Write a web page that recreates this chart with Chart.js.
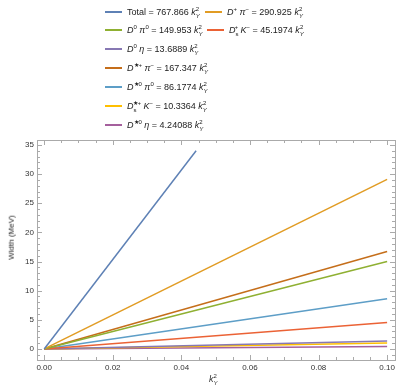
<!DOCTYPE html>
<html>
<head>
<meta charset="utf-8">
<script src="https://cdn.jsdelivr.net/npm/chart.js@4"></script>
<style>
  html, body { margin: 0; padding: 0; background: #fff; }
  #wrap { position: relative; width: 407px; height: 391px; font-family: "Liberation Sans", Arial, sans-serif; }
  canvas { position: absolute; left: 0; top: 0; }
  .leg { position: absolute; font-size: 9px; color: #222; white-space: nowrap; line-height: 10px; }
  .leg .sw { display: inline-block; width: 17px; height: 2px; vertical-align: middle; margin-right: 5px; position: relative; top: -1px; }
  .leg i { font-style: italic; }
  .leg sup, .leg sub { font-size: 6px; line-height: 0; }
  .lbl { position: absolute; font-size: 8px; color: #333; white-space: nowrap; }
</style>
</head>
<body>
<div id="wrap">
  <canvas id="c" width="407" height="391"></canvas>
  <div id="legend"></div>
  <div class="lbl" id="ylab" style="left:-11px; top:233px; transform: rotate(-90deg); color:#222;">Width (MeV)</div>
  <div class="lbl" style="left:209px; top:373px; font-size:9px;"><i>k</i><sub style="font-size:6px;"><i>Y</i></sub><sup style="font-size:6px; margin-left:-4px;">2</sup></div>
</div>
<script>
// channel names (html) and colours, Mathematica default palette order
const channels = [
  'Total = 767.866',
  '<i>D</i><sup>+</sup> <i>π</i><sup>−</sup> = 290.925',
  '<i>D</i><sup>0</sup> <i>π</i><sup>0</sup> = 149.953',
  '<i>D</i><sub>s</sub><sup style="margin-left:-4px">+</sup> <i>K</i><sup>−</sup> = 45.1974',
  '<i>D</i><sup>0</sup> <i>η</i> = 13.6889',
  '<i>D</i><sup>★+</sup> <i>π</i><sup>−</sup> = 167.347',
  '<i>D</i><sup>★0</sup> <i>π</i><sup>0</sup> = 86.1774',
  '<i>D</i><sub>s</sub><sup style="margin-left:-4px">★+</sup> <i>K</i><sup>−</sup> = 10.3364',
  '<i>D</i><sup>★0</sup> <i>η</i> = 4.24088'
];
const colors = ['#5e81b5', '#e19c24', '#8fb032', '#eb6235', '#8778b3', '#c56e1a', '#5d9ec7', '#ffbf00', '#a5609d'];

// end points of each line (all start at 0,0)
const xEnd = [0.0443, 0.1, 0.1, 0.1, 0.1, 0.1, 0.1, 0.1, 0.1];
const yEnd = [34.0, 29.09, 14.99, 4.52, 1.37, 16.73, 8.62, 1.03, 0.42];

const xTicks = [0, 0.02, 0.04, 0.06, 0.08, 0.10];
const xTickLabels = ['0.00', '0.02', '0.04', '0.06', '0.08', '0.10'];
const yTicks = [0, 5, 10, 15, 20, 25, 30, 35];

// legend layout (left col, right col, then the rest in left col)
const legPos = [[105, 7], [205, 7], [105, 25], [207, 25], [105, 44], [105, 63], [105, 82], [105, 101], [105, 120]];
const legend = document.getElementById('legend');
legend.innerHTML = channels.map((txt, i) => `
  <div class="leg" style="left:${legPos[i][0]}px; top:${legPos[i][1]}px;">
    <span class="sw" style="background:${colors[i]};"></span>${txt} <i>k</i><sub><i>Y</i></sub><sup style="margin-left:-4px">2</sup>
  </div>`).join('');

const frame = {
  id: 'frame',
  afterDraw(chart) {
    const ctx = chart.ctx;
    const a = chart.chartArea;
    const xs = chart.scales.x, ys = chart.scales.y;
    ctx.save();
    ctx.strokeStyle = '#aaa';
    ctx.lineWidth = 1;
    ctx.strokeRect(a.left + 0.5, a.top + 0.5, a.right - a.left, a.bottom - a.top);
    ctx.beginPath();
    for (let v = 0; v <= 0.1001; v += 0.005) {
      const px = Math.round(xs.getPixelForValue(v)) + 0.5;
      const major = Math.abs(v / 0.02 - Math.round(v / 0.02)) < 1e-6;
      const len = major ? 5 : 3;
      ctx.moveTo(px, a.bottom); ctx.lineTo(px, a.bottom - len);
      ctx.moveTo(px, a.top); ctx.lineTo(px, a.top + len);
    }
    for (let v = -1; v <= 35; v += 1) {
      const py = Math.round(ys.getPixelForValue(v)) + 0.5;
      const len = v % 5 === 0 ? 5 : 3;
      ctx.moveTo(a.left, py); ctx.lineTo(a.left + len, py);
      ctx.moveTo(a.right, py); ctx.lineTo(a.right - len, py);
    }
    ctx.stroke();
    ctx.fillStyle = '#333';
    ctx.font = '8px "Liberation Sans", Arial, sans-serif';
    ctx.textAlign = 'center';
    ctx.textBaseline = 'top';
    xTicks.forEach((v, i) => ctx.fillText(xTickLabels[i], xs.getPixelForValue(v), a.bottom + 4));
    ctx.textAlign = 'right';
    ctx.textBaseline = 'middle';
    yTicks.forEach(v => ctx.fillText(String(v), a.left - 3, ys.getPixelForValue(v)));
    ctx.restore();
  }
};

new Chart(document.getElementById('c').getContext('2d'), {
  type: 'line',
  data: {
    datasets: colors.map((col, i) => ({
      data: [{ x: 0, y: 0 }, { x: xEnd[i], y: yEnd[i] }],
      borderColor: col,
      borderWidth: 1.5,
      pointRadius: 0,
      fill: false
    }))
  },
  options: {
    responsive: false,
    animation: false,
    layout: { padding: { left: 37, right: 12, top: 140, bottom: 31 } },
    plugins: { legend: { display: false }, tooltip: { enabled: false } },
    scales: {
      x: { type: 'linear', min: -0.0021, max: 0.1023, display: false },
      y: { type: 'linear', min: -1.9, max: 35.85, display: false }
    }
  },
  plugins: [frame]
});
</script>
</body>
</html>
